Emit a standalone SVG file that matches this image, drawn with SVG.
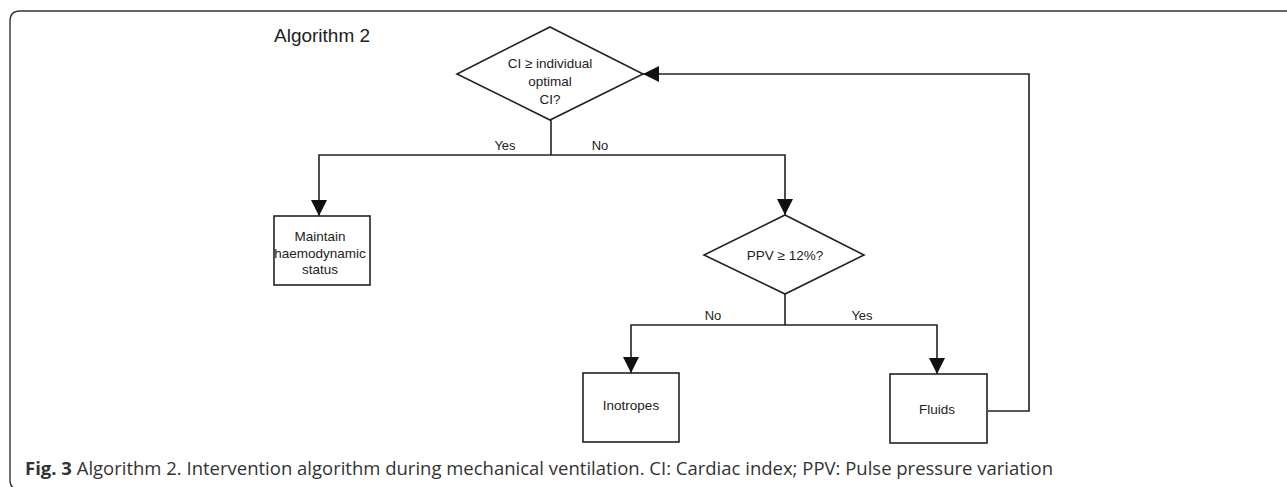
<svg xmlns="http://www.w3.org/2000/svg" width="1287" height="487" viewBox="0 0 1287 487">
<style>
.shape{fill:#fff;stroke:#222;stroke-width:1.6}
.line{fill:none;stroke:#222;stroke-width:1.6}
.t{font-family:"Liberation Sans",Arial,sans-serif;font-size:13.5px;fill:#222;text-anchor:middle}
.lbl{font-family:"Liberation Sans",Arial,sans-serif;font-size:13px;fill:#222;text-anchor:middle}
.cap{font-family:"Open Sans","Liberation Sans",sans-serif;font-size:18px;fill:#333}
</style>
<defs>
<marker id="arr" viewBox="0 0 16 16" refX="16" refY="8" markerWidth="16" markerHeight="16" markerUnits="userSpaceOnUse" orient="auto">
<path d="M0,0 L16,8 L0,16 Z" fill="#111"/>
</marker>
</defs>
<path d="M13,487 Q10,486 10,480 V21 Q10,11 20,11 H1287" fill="none" stroke="#333" stroke-width="1.4"/>
<text x="274" y="42" font-family="Liberation Sans,Arial,sans-serif" font-size="19" fill="#222">Algorithm 2</text>
<g id="connectors">
<path class="line" d="M551,120 V155"/>
<path class="line" d="M551,155 H319 V216" marker-end="url(#arr)"/>
<path class="line" d="M551,155 H785 V215" marker-end="url(#arr)"/>
<path class="line" d="M785,294 V325"/>
<path class="line" d="M785,325 H631 V373" marker-end="url(#arr)"/>
<path class="line" d="M785,325 H937 V374" marker-end="url(#arr)"/>
<path class="line" d="M988,411 H1029 V74 H643" marker-end="url(#arr)"/>
<text class="lbl" x="505" y="150">Yes</text>
<text class="lbl" x="600" y="150">No</text>
<text class="lbl" x="713" y="320">No</text>
<text class="lbl" x="862" y="320">Yes</text>
</g>
<g id="d1">
<polygon class="shape" points="550,27 643,74 550,120 457,74"/>
<text class="t" x="550" y="68">CI ≥ individual</text>
<text class="t" x="550" y="86">optimal</text>
<text class="t" x="550" y="104">CI?</text>
</g>
<g id="maintain">
<rect class="shape" x="274" y="216" width="96" height="69"/>
<text class="t" x="320" y="241">Maintain</text>
<text class="t" x="320" y="258">haemodynamic</text>
<text class="t" x="320" y="274">status</text>
</g>
<g id="d2">
<polygon class="shape" points="785,215 864,255 785,294 704,255"/>
<text class="t" x="785" y="260">PPV ≥ 12%?</text>
</g>
<g id="inotropes">
<rect class="shape" x="583" y="373" width="96" height="69"/>
<text class="t" x="631" y="410">Inotropes</text>
</g>
<g id="fluids">
<rect class="shape" x="890" y="374" width="97" height="69"/>
<text class="t" x="937" y="414">Fluids</text>
</g>
<text class="cap" x="25" y="475" textLength="1028" lengthAdjust="spacingAndGlyphs"><tspan font-weight="bold">Fig. 3</tspan> Algorithm 2. Intervention algorithm during mechanical ventilation. CI: Cardiac index; PPV: Pulse pressure variation</text>
</svg>
